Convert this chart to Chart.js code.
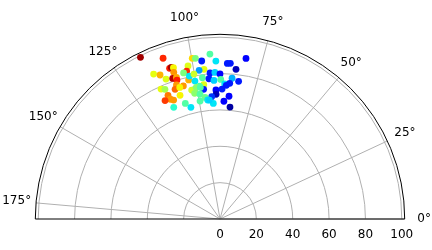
<!DOCTYPE html>
<html>
<head>
<meta charset="utf-8">
<script src="https://cdn.jsdelivr.net/npm/chart.js@4/dist/chart.umd.min.js"></script>
<style>
  html, body { margin: 0; padding: 0; background: #fff; }
</style>
</head>
<body>
<canvas id="cv" width="432" height="250"></canvas>
<script>
// angle (deg), radius, colour value (0..1 on jet) per point
const thetaDeg = [116.2, 109.5, 99.8, 98.7, 93.5, 80.8, 96.6, 91.5, 87.3, 86.2,
  83.9, 101.8, 108.5, 107.8, 107.1, 107.5, 102.7, 96.1, 98.0, 114.6,
  112.6, 111.1, 108.6, 107.1, 107.2, 104.0, 102.7, 102.1, 100.2, 100.3,
  97.1, 93.9, 92.0, 90.0, 94.5, 92.5, 89.7, 88.0, 87.3, 85.1,
  82.3, 85.9, 96.9, 97.2, 98.8, 101.1, 105.4, 108.0, 109.1, 107.0,
  114.4, 113.0, 102.4, 100.2, 98.5, 91.8, 89.1, 91.8, 93.9, 85.8,
  88.1, 84.9, 112.8, 112.5, 114.9, 111.3, 107.9, 101.4, 99.1, 97.0,
  95.9, 93.3, 99.6, 106.7, 104.6, 112.5, 95.1];
const radius = [99.1, 93.8, 89.7, 89.4, 90.9, 89.5, 87.5, 86.9, 85.7, 85.8,
  82.8, 86.0, 87.4, 87.6, 87.1, 84.6, 83.4, 82.8, 82.6, 87.7,
  85.8, 82.5, 81.6, 81.5, 80.0, 82.8, 78.4, 80.4, 81.0, 77.1,
  78.3, 80.5, 80.7, 79.8, 77.4, 76.3, 76.8, 74.3, 73.6, 77.7,
  76.4, 74.8, 74.4, 71.9, 74.0, 72.7, 75.9, 77.5, 75.5, 75.7,
  78.5, 77.5, 72.6, 73.6, 73.2, 71.0, 71.5, 68.6, 67.4, 67.7,
  64.8, 61.8, 73.8, 71.3, 71.8, 70.2, 71.5, 70.5, 69.5, 67.4,
  65.8, 63.7, 65.8, 66.4, 63.5, 66.5, 65.7];
const colorVal = [0.97, 0.87, 0.68, 0.5, 0.45, 0.12, 0.15, 0.35, 0.15, 0.15,
  0.05, 0.62, 0.88, 0.97, 0.65, 0.75, 0.87, 0.63, 0.28, 0.63,
  0.72, 0.62, 0.95, 0.73, 0.88, 0.5, 0.72, 0.35, 0.6, 0.35,
  0.45, 0.15, 0.33, 0.12, 0.15, 0.33, 0.45, 0.35, 0.15, 0.3,
  0.15, 0.15, 0.62, 0.15, 0.45, 0.48, 0.75, 0.75, 0.8, 0.65,
  0.63, 0.55, 0.6, 0.52, 0.45, 0.12, 0.15, 0.05, 0.18, 0.12,
  0.12, 0.03, 0.78, 0.75, 0.85, 0.75, 0.65, 0.52, 0.45, 0.48,
  0.35, 0.35, 0.45, 0.45, 0.35, 0.4, 0.33];

const rTicks = [0, 20, 40, 60, 80, 100];
const angleTicks = [0, 25, 50, 75, 100, 125, 150, 175];
const rMax = 101.6;

// matplotlib's jet segments
const jetSeg = {
  r: [[0, 0], [0.35, 0], [0.66, 1], [0.89, 1], [1, 0.5]],
  g: [[0, 0], [0.125, 0], [0.375, 1], [0.64, 1], [0.91, 0], [1, 0]],
  b: [[0, 0.5], [0.11, 1], [0.34, 1], [0.65, 0], [1, 0]]
};
function seg(s, v) {
  for (let i = 1; i < s.length; i++) {
    if (v <= s[i][0]) {
      const [x0, y0] = s[i - 1], [x1, y1] = s[i];
      return y0 + (y1 - y0) * (v - x0) / (x1 - x0);
    }
  }
  return s[s.length - 1][1];
}
function jet(v) {
  const c = s => Math.round(255 * seg(s, v));
  return `rgb(${c(jetSeg.r)}, ${c(jetSeg.g)}, ${c(jetSeg.b)})`;
}

const pts = thetaDeg.map((a, i) => {
  const t = a * Math.PI / 180;
  return { x: radius[i] * Math.cos(t), y: radius[i] * Math.sin(t) };
});

const FONT = { family: 'DejaVu Sans', size: 12 };

// draws the half-polar frame using the chart's x/y scales
const polarGrid = {
  id: 'polarGrid',
  beforeDatasetsDraw(chart) {
    const { ctx, scales: { x, y } } = chart;
    const cx = x.getPixelForValue(0), cy = y.getPixelForValue(0);
    const len = r => x.getPixelForValue(r) - cx;
    ctx.save();
    ctx.lineWidth = 1;
    ctx.strokeStyle = '#b0b0b0';
    rTicks.forEach(r => {
      if (r === 0) return;
      ctx.beginPath();
      ctx.arc(cx, cy, len(r), Math.PI, 2 * Math.PI);
      ctx.stroke();
    });
    angleTicks.forEach(a => {
      const t = a * Math.PI / 180;
      ctx.beginPath();
      ctx.moveTo(cx, cy);
      ctx.lineTo(x.getPixelForValue(rMax * Math.cos(t)), y.getPixelForValue(rMax * Math.sin(t)));
      ctx.stroke();
    });
    ctx.strokeStyle = '#000';
    ctx.beginPath();
    ctx.arc(cx, cy, len(rMax), Math.PI, 2 * Math.PI);
    ctx.stroke();
    ctx.beginPath();
    ctx.moveTo(x.getPixelForValue(-rMax), cy);
    ctx.lineTo(x.getPixelForValue(rMax), cy);
    ctx.stroke();

    ctx.fillStyle = '#000';
    ctx.font = '12px "DejaVu Sans"';
    ctx.textAlign = 'center';
    ctx.textBaseline = 'middle';
    const lr = rMax * 1.105;
    angleTicks.forEach(a => {
      const t = a * Math.PI / 180;
      ctx.fillText(a + '°', x.getPixelForValue(lr * Math.cos(t)), y.getPixelForValue(lr * Math.sin(t)));
    });
    ctx.restore();
  }
};

new Chart(document.getElementById('cv'), {
  type: 'scatter',
  data: {
    datasets: [{
      data: pts,
      pointBackgroundColor: colorVal.map(jet),
      pointBorderWidth: 0,
      pointRadius: 3.4,
      pointHoverRadius: 3.4
    }]
  },
  options: {
    responsive: false,
    devicePixelRatio: 1,
    animation: false,
    layout: { padding: { left: 35.3, right: 27.3, top: 34.3, bottom: 0 } },
    plugins: { legend: { display: false }, tooltip: { enabled: false } },
    scales: {
      x: {
        type: 'linear',
        min: -rMax,
        max: rMax,
        grid: { display: false, drawTicks: false, tickLength: 0 },
        border: { display: false },
        ticks: { font: FONT, color: '#000', padding: 9, maxRotation: 0, autoSkip: false },
        afterBuildTicks: s => { s.ticks = rTicks.map(v => ({ value: v })); },
        afterFit: s => { s.paddingLeft = 0; s.paddingRight = 0; s.height = 31; }
      },
      y: { display: false, min: 0, max: rMax }
    }
  },
  plugins: [polarGrid]
});
</script>
</body>
</html>
